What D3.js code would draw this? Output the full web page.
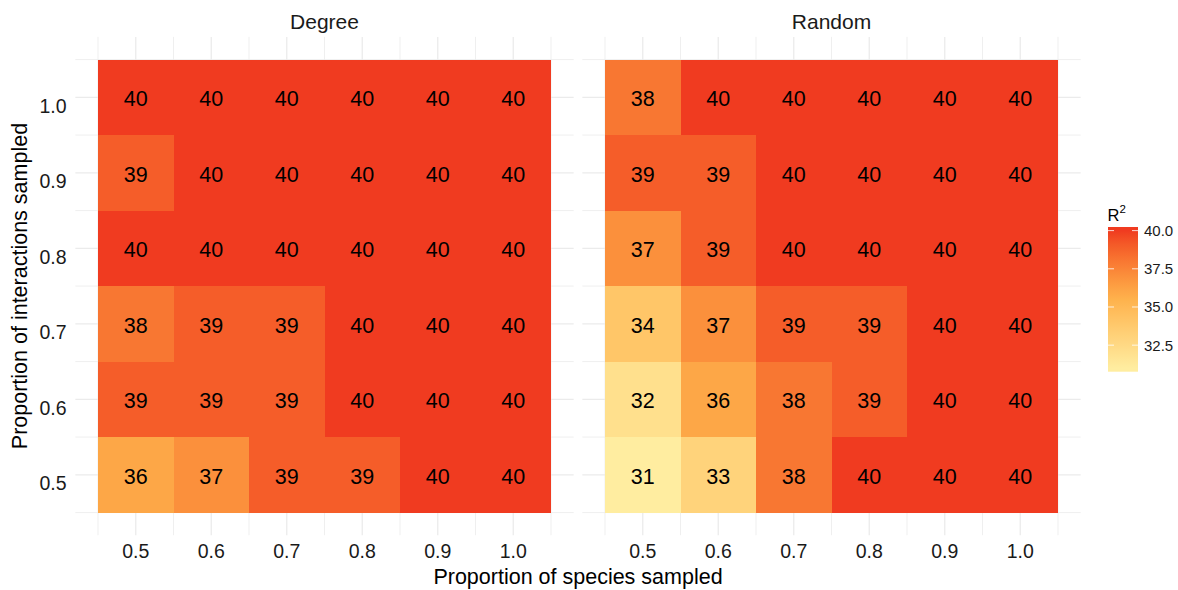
<!DOCTYPE html>
<html>
<head>
<meta charset="utf-8">
<script src="https://cdn.jsdelivr.net/npm/d3@7"></script>
<style>
  html, body { margin: 0; padding: 0; background: #fff; }
  svg { display: block; font-family: "Liberation Sans", Arial, Helvetica, sans-serif; }
</style>
</head>
<body>
<svg id="chart" width="1178" height="590"></svg>
<script>
// ---- data ----
const panels = ["Degree", "Random"];
const speciesProps = [0.5, 0.6, 0.7, 0.8, 0.9, 1.0];          // x categories
const interactionProps = [1.0, 0.9, 0.8, 0.7, 0.6, 0.5];      // y categories (rows, top to bottom)
const xTickLabels = ["0.5", "0.6", "0.7", "0.8", "0.9", "1.0"];
const yTickLabels = ["0.5", "0.6", "0.7", "0.8", "0.9", "1.0"];
// rows follow interactionProps order, columns follow speciesProps order
const degreeValues = [
  [40, 40, 40, 40, 40, 40],
  [39, 40, 40, 40, 40, 40],
  [40, 40, 40, 40, 40, 40],
  [38, 39, 39, 40, 40, 40],
  [39, 39, 39, 40, 40, 40],
  [36, 37, 39, 39, 40, 40]
];
const randomValues = [
  [38, 40, 40, 40, 40, 40],
  [39, 39, 40, 40, 40, 40],
  [37, 39, 40, 40, 40, 40],
  [34, 37, 39, 39, 40, 40],
  [32, 36, 38, 39, 40, 40],
  [31, 33, 38, 40, 40, 40]
];
const legendTicks = [32.5, 35.0, 37.5, 40.0];
const legendTitle = "R";

// ---- build tidy table ----
const valuesByPanel = { Degree: degreeValues, Random: randomValues };
const cells = [];
panels.forEach(p => {
  valuesByPanel[p].forEach((row, i) => {
    row.forEach((v, j) => cells.push({ panel: p, x: speciesProps[j], y: interactionProps[i], value: v }));
  });
});

const svg = d3.select("#chart");
const FONT = "'Liberation Sans', Arial, Helvetica, sans-serif";

// ---- scales ----
const pad = 0.03;
const xDomain = [0.45 - pad, 1.05 + pad];
const panelRanges = { Degree: [75.35, 573.65], Random: [582.35, 1080.65] };
const xScales = {};
panels.forEach(p => { xScales[p] = d3.scaleLinear().domain(xDomain).range(panelRanges[p]); });
const yScale = d3.scaleLinear().domain([0.45 - pad, 1.05 + pad]).range([535.2, 36.9]);

const vmin = d3.min(cells, d => d.value), vmax = d3.max(cells, d => d.value);
const color = d3.scaleLinear()
  .domain([vmin, (vmin + vmax) / 2, vmax])
  .range(["#FFEDA0", "#FEB24C", "#F03B20"])
  .interpolate(d3.interpolateLab)
  .clamp(true);

const majors = speciesProps.slice();
const minors = d3.range(0, 7).map(i => 0.45 + i * 0.1);

// ---- panels ----
panels.forEach(p => {
  const xs = xScales[p];
  const g = svg.append("g");
  const [x0, x1] = xs.range();
  const [y1, y0] = yScale.range();
  // minor grid
  g.selectAll(".vminor").data(minors).join("line")
    .attr("x1", d => xs(d)).attr("x2", d => xs(d)).attr("y1", y0).attr("y2", y1)
    .attr("stroke", "#EBEBEB").attr("stroke-width", 0.8);
  g.selectAll(".hminor").data(minors).join("line")
    .attr("y1", d => yScale(d)).attr("y2", d => yScale(d)).attr("x1", x0).attr("x2", x1)
    .attr("stroke", "#EBEBEB").attr("stroke-width", 0.8);
  // major grid
  g.selectAll(".vmajor").data(majors).join("line")
    .attr("x1", d => xs(d)).attr("x2", d => xs(d)).attr("y1", y0).attr("y2", y1)
    .attr("stroke", "#EBEBEB").attr("stroke-width", 1.3);
  g.selectAll(".hmajor").data(majors).join("line")
    .attr("y1", d => yScale(d)).attr("y2", d => yScale(d)).attr("x1", x0).attr("x2", x1)
    .attr("stroke", "#EBEBEB").attr("stroke-width", 1.3);

  const pc = cells.filter(c => c.panel === p);
  // tiles
  g.selectAll("rect.tile").data(pc).join("rect")
    .attr("class", "tile")
    .attr("x", d => xs(d.x - 0.05))
    .attr("y", d => yScale(d.y + 0.05))
    .attr("width", d => xs(d.x + 0.05) - xs(d.x - 0.05))
    .attr("height", d => yScale(d.y - 0.05) - yScale(d.y + 0.05))
    .attr("fill", d => color(d.value))
    .attr("shape-rendering", "crispEdges");
  // labels
  g.selectAll("text.lab").data(pc).join("text")
    .attr("class", "lab")
    .attr("x", d => xs(d.x))
    .attr("y", d => yScale(d.y) + 1.5)
    .attr("text-anchor", "middle")
    .attr("dy", "0.35em")
    .attr("font-size", 21.5)
    .attr("fill", "#000")
    .text(d => d3.format(".0f")(d.value));

  // x tick labels
  g.selectAll("text.xt").data(speciesProps).join("text")
    .attr("class", "xt")
    .attr("x", d => xs(d))
    .attr("y", 557.5)
    .attr("text-anchor", "middle")
    .attr("font-size", 19.5)
    .attr("fill", "#1a1a1a")
    .text((d, i) => xTickLabels[i]);

  // strip title
  g.append("text")
    .attr("x", (xs(0.45) + xs(1.05)) / 2)
    .attr("y", 28.5)
    .attr("text-anchor", "middle")
    .attr("font-size", 21)
    .attr("fill", "#1a1a1a")
    .text(p);
});

// y tick labels
svg.selectAll("text.yt").data(yTickLabels).join("text")
  .attr("class", "yt")
  .attr("x", 66.5)
  .attr("y", d => yScale(+d) + 15.5)
  .attr("text-anchor", "end")
  .attr("font-size", 19.5)
  .attr("fill", "#1a1a1a")
  .text(d => d);

// axis titles
svg.append("text")
  .attr("x", (xScales.Degree(0.45) + xScales.Random(1.05)) / 2)
  .attr("y", 584)
  .attr("text-anchor", "middle")
  .attr("font-size", 21.5)
  .attr("fill", "#000")
  .text("Proportion of species sampled");

svg.append("text")
  .attr("transform", `translate(26.5, ${(yScale(0.45) + yScale(1.05)) / 2}) rotate(-90)`)
  .attr("text-anchor", "middle")
  .attr("font-size", 21.5)
  .attr("fill", "#000")
  .text("Proportion of interactions sampled");

// ---- legend ----
const barX = 1108, barW = 30, barTop = 227, barBot = 371.7;
const half = (barBot - barTop) / 20 / 2;
const lScale = d3.scaleLinear().domain([vmin, vmax]).range([barBot - half, barTop + half]);
const defs = svg.append("defs");
const grad = defs.append("linearGradient").attr("id", "lg")
  .attr("x1", 0).attr("x2", 0).attr("y1", 1).attr("y2", 0);
const nStops = 30;
d3.range(nStops + 1).forEach(i => {
  const v = vmin + (vmax - vmin) * i / nStops;
  const off = (barBot - lScale(v)) / (barBot - barTop);
  grad.append("stop").attr("offset", off).attr("stop-color", color(v));
});
svg.append("rect")
  .attr("x", barX).attr("y", barTop).attr("width", barW).attr("height", barBot - barTop)
  .attr("fill", "url(#lg)");
const lg = svg.append("g");
lg.selectAll("line.tl").data(legendTicks).join("line")
  .attr("x1", barX).attr("x2", barX + 6)
  .attr("y1", d => lScale(d)).attr("y2", d => lScale(d))
  .attr("stroke", "#fff").attr("stroke-opacity", 0.8).attr("stroke-width", 1);
lg.selectAll("line.tr").data(legendTicks).join("line")
  .attr("x1", barX + barW - 6).attr("x2", barX + barW)
  .attr("y1", d => lScale(d)).attr("y2", d => lScale(d))
  .attr("stroke", "#fff").attr("stroke-opacity", 0.8).attr("stroke-width", 1);
lg.selectAll("text").data(legendTicks).join("text")
  .attr("x", 1144)
  .attr("y", d => lScale(d))
  .attr("dy", "0.36em")
  .attr("font-size", 15)
  .attr("fill", "#1a1a1a")
  .text(d => d3.format(".1f")(d));

const title = svg.append("text")
  .attr("x", 1107.5).attr("y", 220.5)
  .attr("font-size", 16.5)
  .attr("fill", "#000");
title.append("tspan").text(legendTitle);
title.append("tspan").attr("font-size", 11.5).attr("dy", -8).text("2");
</script>
</body>
</html>
